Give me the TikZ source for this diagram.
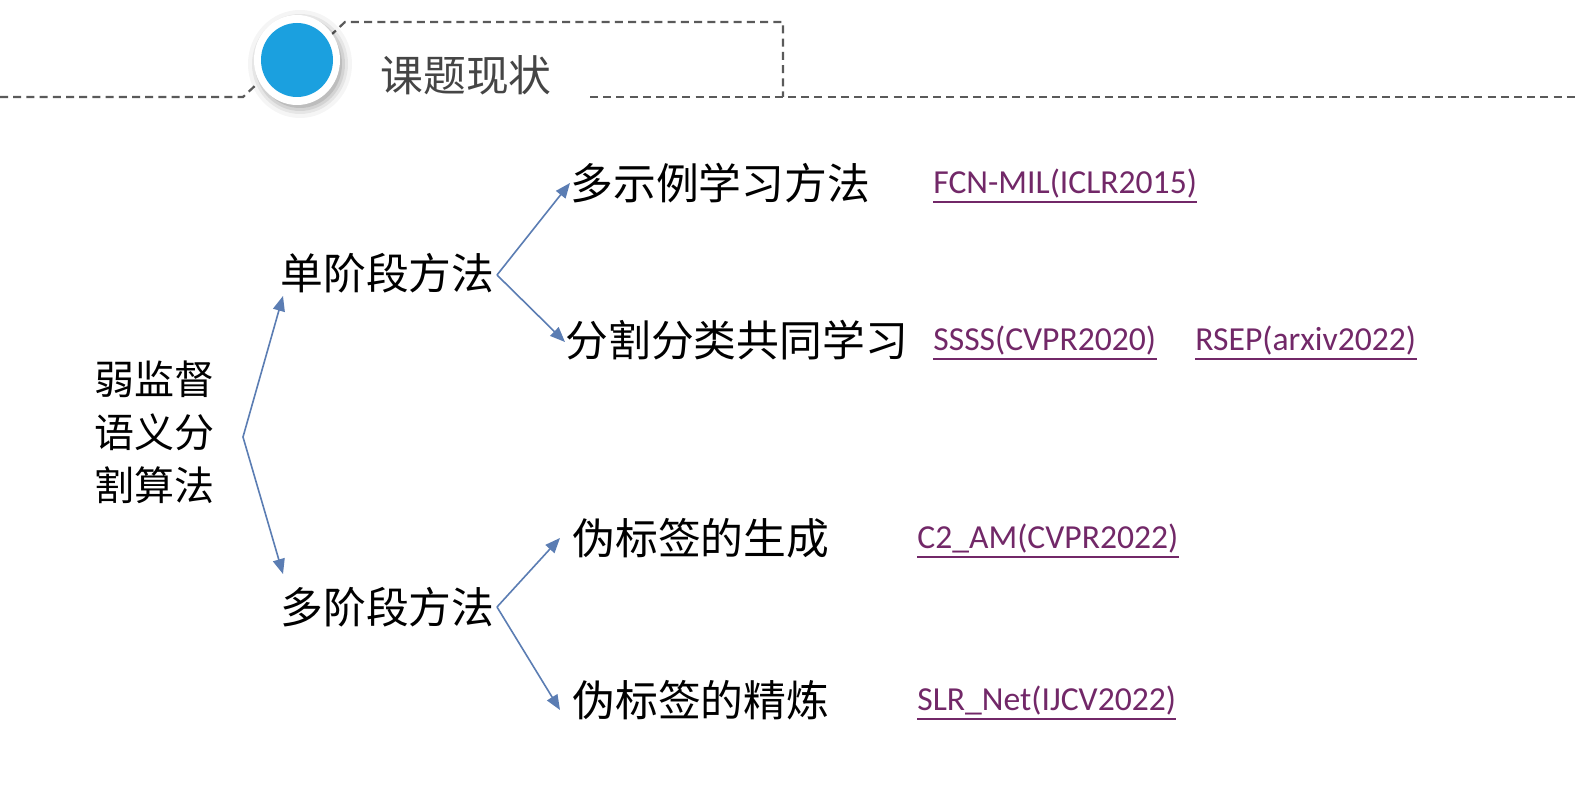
\documentclass[tikz,border=0pt]{standalone}
\usepackage{fontspec}
\setmainfont{Carlito}
\newfontfamily\cjk{Noto Sans CJK SC}
\usetikzlibrary{arrows.meta}
\definecolor{dashgray}{HTML}{5A5A5A}
\definecolor{arrowblue}{HTML}{5B7DB3}
\definecolor{linkpurple}{HTML}{722868}
\definecolor{dotblue}{HTML}{1BA0DF}
\definecolor{titlegray}{HTML}{454545}
\begin{document}
\begin{tikzpicture}[x=0.5pt,y=-0.5pt,
  dashline/.style={draw=dashgray,line width=1.1pt,dash pattern=on 4pt off 2.6pt},
  conn/.style={draw=arrowblue,line width=0.8pt,-{Triangle[length=7.5pt,width=6pt]}},
  lvl/.style={anchor=west,inner sep=0pt,font=\cjk\fontsize{21.4}{24}\selectfont,text=black},
  root/.style={anchor=north west,inner sep=0pt,align=left,font=\cjk\fontsize{20}{26.5}\selectfont,text=black},
  link/.style={anchor=west,inner sep=0pt,font=\fontsize{16.8}{20}\selectfont,text=linkpurple},
  uline/.style={draw=linkpurple,line width=0.8pt}]
\useasboundingbox (0,0) rectangle (1575,785);
\fill[white] (0,0) rectangle (1575,785);
% header
\draw[dashline] (0,97) -- (243,97) -- (258,83);
\draw[dashline] (330,36) -- (345,22) -- (783,22) -- (783,97);
\draw[dashline] (590,97) -- (1575,97);
\foreach \r/\o in {52/0.04,48/0.06,45/0.08,42/0.1}
  \fill[black,opacity=\o] (300,64) ellipse ({\r} and {\r+2});
\fill[white] (297,60) ellipse (43 and 45);
\fill[dotblue] (297,60) ellipse (36 and 37);
\node[anchor=west,inner sep=0pt,text=titlegray,font=\cjk\fontsize{21.4}{24}\selectfont] (title) at (380,75) {课题现状};
% tree
\node[root] (r) at (94,360) {弱监督\\语义分\\割算法};
\coordinate (rf) at (243,437);
\node[lvl] (s1) at (280,273) {单阶段方法};
\node[lvl] (s2) at (280,607) {多阶段方法};
\coordinate (t1) at (283,296);
\coordinate (t2) at (283,574);
\draw[conn] (rf) -- (t1);
\draw[conn] (rf) -- (t2);
\node[lvl] (a1) at (570,183) {多示例学习方法};
\node[lvl] (a2) at (565,340) {分割分类共同学习};
\node[lvl] (b1) at (572,538) {伪标签的生成};
\node[lvl] (b2) at (572,700) {伪标签的精炼};
\coordinate (f1) at (497,275);
\coordinate (f2) at (497,607);
\draw[conn] (f1) -- (a1.west);
\draw[conn] (f1) -- ([yshift=-1]a2.west);
\draw[conn] (f2) -- ([xshift=-6]b1.west);
\draw[conn] (f2) -- ([xshift=-6,yshift=-5]b2.west);
% links
\node[link] (l1) at (933,184) {FCN-MIL(ICLR2015)};
\node[link] (l2) at (933,341) {SSSS(CVPR2020)};
\node[link] (l3) at (1195,341) {RSEP(arxiv2022)};
\node[link] (l4) at (917,539) {C2\_AM(CVPR2022)};
\node[link] (l5) at (917,701) {SLR\_Net(IJCV2022)};
\foreach \n in {l1,l2,l3,l4,l5}
  \draw[uline] ([yshift=-1.5]\n.south west) -- ([yshift=-1.5]\n.south east);
\end{tikzpicture}
\end{document}
